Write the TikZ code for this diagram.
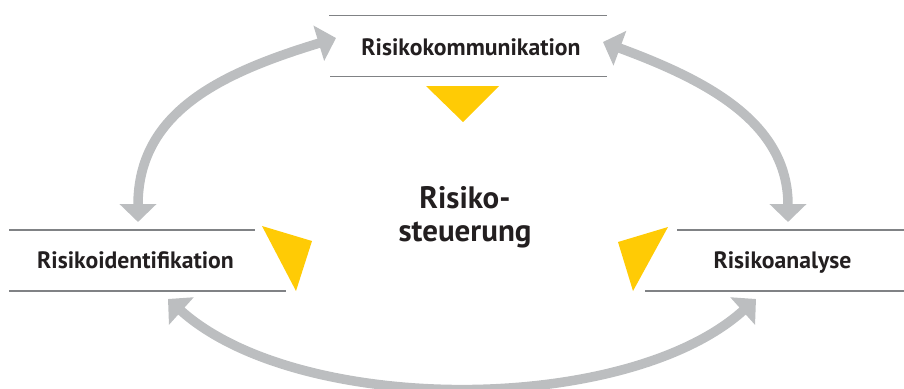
\documentclass[tikz,border=0pt]{standalone}
\usepackage{fontspec}
\setmainfont{PT Sans}
\usetikzlibrary{arrows.meta}
\definecolor{arrowgray}{HTML}{BCBEC0}
\definecolor{rulegray}{HTML}{808285}
\definecolor{wedgeyellow}{HTML}{FFCB05}
\definecolor{txt}{HTML}{231F20}
\begin{document}
\begin{tikzpicture}[x=1pt,y=-1pt,
  steplabel/.style={font=\bfseries\fontsize{23.7}{28}\selectfont, text=txt, inner sep=0pt, anchor=base},
  centerlabel/.style={font=\bfseries\fontsize{31}{33}\selectfont, text=txt, inner sep=0pt, align=center},
  rule/.style={draw=rulegray, line width=1.6pt},
  cyc/.style={draw=arrowgray, line width=9.5pt,
    {Triangle[width=36pt,length=18pt]}-{Triangle[width=36pt,length=18pt]}},
  wedge/.style={fill=wedgeyellow}]
\useasboundingbox (0,0) rectangle (904,388);
% labels
\node[steplabel] (komm) at (471,55) {Risikokommunikation};
\node[steplabel] (ident) at (135.5,268) {Risikoidentifikation};
\node[steplabel] (anal) at (782.5,268) {Risikoanalyse};
\node[centerlabel] (steu) at (465,217) {Risiko-\\steuerung};
% rules
\draw[rule] (329,15.5) -- (607,15.5);
\draw[rule] (330,76.5) -- (607,76.5);
\draw[rule] (9,230) -- (255,230);
\draw[rule] (9,291) -- (286,291);
\draw[rule] (677,230) -- (904,230);
\draw[rule] (645,291) -- (904,291);
% wedges
\fill[wedge] (426,86) -- (499,86) -- (463,122) -- cycle;
\fill[wedge] (262,226) -- (312,241) -- (296,291) -- cycle;
\fill[wedge] (668,227) -- (618,242) -- (633,291) -- cycle;
% arrow ends
\coordinate (identTop) at (138,222);
\coordinate (kommLeft) at (336,38);
\coordinate (kommRight) at (603,42);
\coordinate (analTop) at (788,222);
\coordinate (identBot) at (168,299);
\coordinate (analBot) at (756,299);
% cycle arrows
\draw[cyc] (identTop) .. controls (138,112) and (221,73) .. (kommLeft);
\draw[cyc] (kommRight) .. controls (706,80) and (788,122) .. (analTop);
\draw[cyc] (identBot) .. controls (298,416) and (626,416) .. (analBot);
\end{tikzpicture}
\end{document}
